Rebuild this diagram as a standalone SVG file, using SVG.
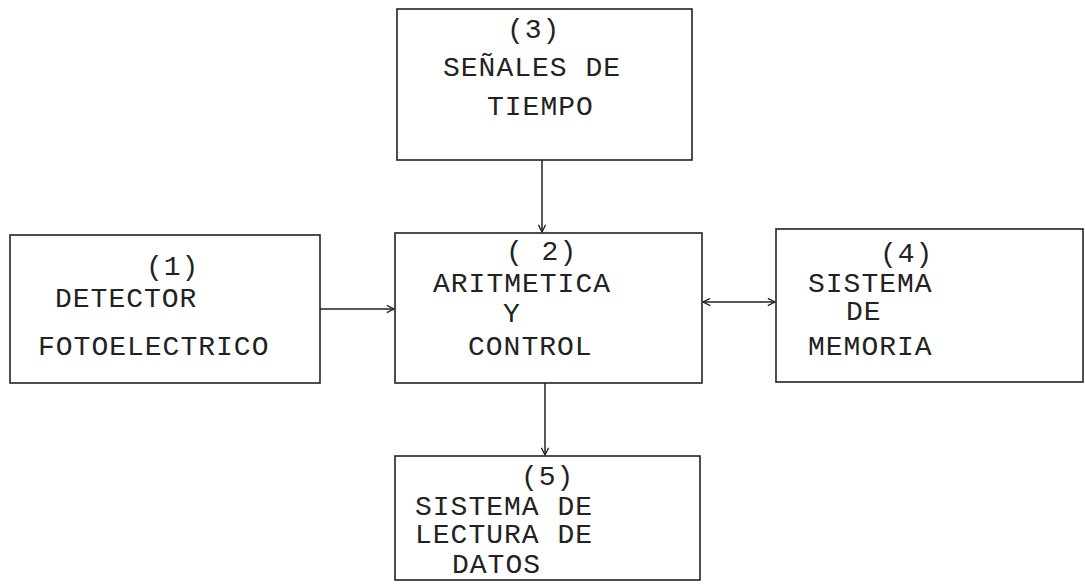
<svg xmlns="http://www.w3.org/2000/svg" width="1085" height="585" viewBox="0 0 1085 585">
<defs>
<style>
.box{fill:none;stroke:#222;stroke-width:1.6}
.t{font-family:"Liberation Mono","DejaVu Sans Mono",monospace;font-size:28px;fill:#222;letter-spacing:1px}
.c{fill:none;stroke:#222;stroke-width:1.5}
</style>
<marker id="ah" viewBox="0 0 10 10" refX="9" refY="5" markerWidth="9" markerHeight="9" markerUnits="userSpaceOnUse" orient="auto-start-reverse">
<path d="M1,1 L9,5 L1,9" fill="none" stroke="#222" stroke-width="1.5"/>
</marker>
</defs>
<rect width="1085" height="585" fill="#fff"/>
<g id="node3">
<rect class="box" x="397" y="9" width="295" height="151"/>
<text class="t" x="507" y="38">(3)</text>
<text class="t" x="443" y="76">SEÑALES DE</text>
<text class="t" x="487" y="115">TIEMPO</text>
</g>
<g id="node1">
<rect class="box" x="10" y="235" width="310" height="148"/>
<text class="t" x="146" y="275">(1)</text>
<text class="t" x="55" y="307">DETECTOR</text>
<text class="t" x="38" y="355">FOTOELECTRICO</text>
</g>
<g id="node2">
<rect class="box" x="395" y="233" width="307" height="150"/>
<text class="t" x="506" y="260">( 2)</text>
<text class="t" x="433" y="292">ARITMETICA</text>
<text class="t" x="503" y="322">Y</text>
<text class="t" x="468" y="355">CONTROL</text>
</g>
<g id="node4">
<rect class="box" x="776" y="229" width="307" height="153"/>
<text class="t" x="880" y="262">(4)</text>
<text class="t" x="808" y="292">SISTEMA</text>
<text class="t" x="846" y="320">DE</text>
<text class="t" x="808" y="355">MEMORIA</text>
</g>
<g id="node5">
<rect class="box" x="395" y="456" width="305" height="124"/>
<text class="t" x="521" y="485">(5)</text>
<text class="t" x="415" y="515">SISTEMA DE</text>
<text class="t" x="415" y="543">LECTURA DE</text>
<text class="t" x="452" y="573">DATOS</text>
</g>
<g id="connectors">
<line class="c" x1="542" y1="160" x2="542" y2="232" marker-end="url(#ah)"/>
<line class="c" x1="320" y1="309" x2="394" y2="309" marker-end="url(#ah)"/>
<line class="c" x1="703" y1="302" x2="775" y2="302" marker-start="url(#ah)" marker-end="url(#ah)"/>
<line class="c" x1="545" y1="383" x2="545" y2="455" marker-end="url(#ah)"/>
</g>
</svg>
